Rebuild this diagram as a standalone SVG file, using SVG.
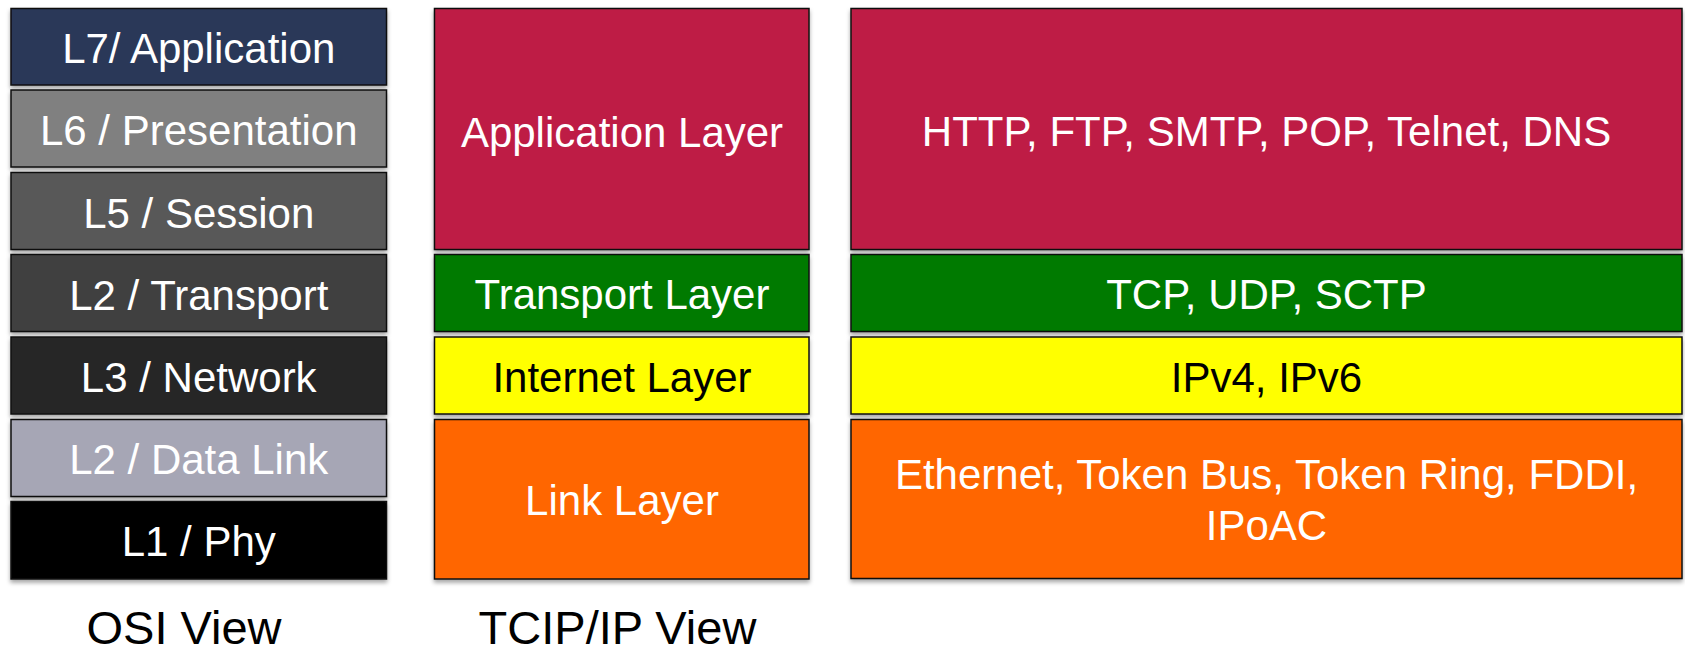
<svg xmlns="http://www.w3.org/2000/svg" width="1685" height="654" viewBox="0 0 1685 654">
  <style>
    .box { stroke: #111; stroke-width: 1.5; filter: url(#sh); }
    .t { font-family: "Liberation Sans", Arial, sans-serif; font-size: 42px; fill: #ffffff; text-anchor: middle; }
    .dk { fill: #000000; }
    .cap { font-family: "Liberation Sans", Arial, sans-serif; font-size: 47px; fill: #000000; text-anchor: middle; }
  </style>
  <defs>
    <filter id="sh" x="-5%" y="-10%" width="110%" height="130%">
      <feDropShadow dx="0" dy="3" stdDeviation="2" flood-color="#000" flood-opacity="0.35"/>
    </filter>
  </defs>
  <rect width="1685" height="654" fill="#ffffff"/>

  <g id="osi">
    <g id="osi-l7"><rect class="box" x="11" y="8.5" width="375.5" height="76.5" fill="#293759"/><text class="t" x="198.75" y="62.5">L7/ Application</text></g>
    <g id="osi-l6"><rect class="box" x="11" y="90" width="375.5" height="77" fill="#808080"/><text class="t" x="198.75" y="145">L6 / Presentation</text></g>
    <g id="osi-l5"><rect class="box" x="11" y="172.5" width="375.5" height="77" fill="#595959"/><text class="t" x="198.75" y="228">L5 / Session</text></g>
    <g id="osi-l4"><rect class="box" x="11" y="254.5" width="375.5" height="77" fill="#404040"/><text class="t" x="198.75" y="310">L2 / Transport</text></g>
    <g id="osi-l3"><rect class="box" x="11" y="337" width="375.5" height="77" fill="#262626"/><text class="t" x="198.75" y="392">L3 / Network</text></g>
    <g id="osi-l2"><rect class="box" x="11" y="419.5" width="375.5" height="77" fill="#a6a6b5"/><text class="t" x="198.75" y="474">L2 / Data Link</text></g>
    <g id="osi-l1"><rect class="box" x="11" y="501.5" width="375.5" height="77.5" fill="#000000"/><text class="t" x="198.75" y="556">L1 / Phy</text></g>
    <text class="cap" x="184" y="644">OSI View</text>
  </g>

  <g id="tcpip">
    <g id="tcp-app"><rect class="box" x="434.5" y="8.5" width="374.5" height="241" fill="#be1e45"/><text class="t" x="622" y="146.5">Application Layer</text></g>
    <g id="tcp-transport"><rect class="box" x="434.5" y="254.5" width="374.5" height="77" fill="#007a00"/><text class="t" x="622" y="309">Transport Layer</text></g>
    <g id="tcp-internet"><rect class="box" x="434.5" y="337" width="374.5" height="77" fill="#ffff00"/><text class="t dk" x="622" y="392">Internet Layer</text></g>
    <g id="tcp-link"><rect class="box" x="434.5" y="419.5" width="374.5" height="159.5" fill="#ff6600"/><text class="t" x="622" y="515">Link Layer</text></g>
    <text class="cap" x="617.5" y="644">TCIP/IP View</text>
  </g>

  <g id="protocols">
    <g id="p-app"><rect class="box" x="851" y="8.5" width="831" height="241" fill="#be1e45"/><text class="t" x="1266.5" y="146">HTTP, FTP, SMTP, POP, Telnet, DNS</text></g>
    <g id="p-transport"><rect class="box" x="851" y="254.5" width="831" height="77" fill="#007a00"/><text class="t" x="1266.5" y="308.5">TCP, UDP, SCTP</text></g>
    <g id="p-internet"><rect class="box" x="851" y="337" width="831" height="77" fill="#ffff00"/><text class="t dk" x="1266.5" y="391.5">IPv4, IPv6</text></g>
    <g id="p-link"><rect class="box" x="851" y="419.5" width="831" height="159" fill="#ff6600"/><text class="t" x="1266.5" y="488.5">Ethernet, Token Bus, Token Ring, FDDI,</text><text class="t" x="1266.5" y="540">IPoAC</text></g>
  </g>

  <g id="connectors"></g>
</svg>
